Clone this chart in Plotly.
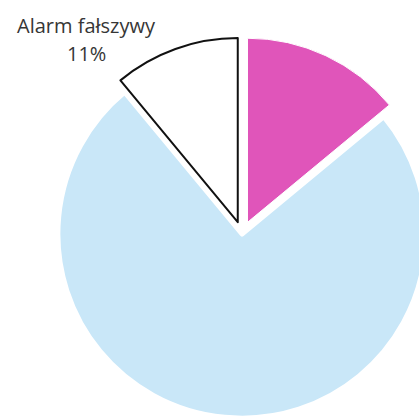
import plotly.graph_objects as go

# categories and shares (%), clockwise from 12 o'clock
labels = ["Pożary", "Miejscowe zagrożenia", "Alarm fałszywy"]
values = [14, 75, 11]
colors = ["#E055BA", "#C9E7F8", "#FFFFFF"]
pulls = [0.07, 0, 0.068]

W, H = 460, 460

fig = go.Figure(go.Pie(
    labels=labels,
    values=values,
    sort=False,
    direction="clockwise",
    rotation=0,
    pull=pulls,
    textinfo="none",
    hoverinfo="label+percent",
    marker=dict(colors=colors,
                line=dict(color=["#FFFFFF", "#FFFFFF", "#111111"],
                          width=[1, 5, 2])),
    domain=dict(x=[45 / W, 439 / W], y=[1 - 431 / H, 1 - 37 / H]),
    showlegend=False,
))

# only the false-alarm slice carries a label in the original
lab_font = dict(family="Open Sans", size=20, color="#363636")
fig.add_annotation(
    x=86 / W, y=1 - 25 / H, xref="paper", yref="paper",
    xanchor="center", yanchor="middle",
    text=labels[2], showarrow=False, font=lab_font,
)
fig.add_annotation(
    x=86 / W, y=1 - 53 / H, xref="paper", yref="paper",
    xanchor="center", yanchor="middle",
    text=f"{values[2]}%", showarrow=False, font=lab_font,
)

fig.update_layout(
    width=W, height=H,
    margin=dict(l=0, r=0, t=0, b=0),
    paper_bgcolor="white",
    plot_bgcolor="white",
)

fig.write_html(
    "out.html",
    config={"displayModeBar": False},
    post_script="document.body.style.margin='0';"
                "document.body.style.overflow='hidden';"
                "document.documentElement.style.overflow='hidden';",
)
